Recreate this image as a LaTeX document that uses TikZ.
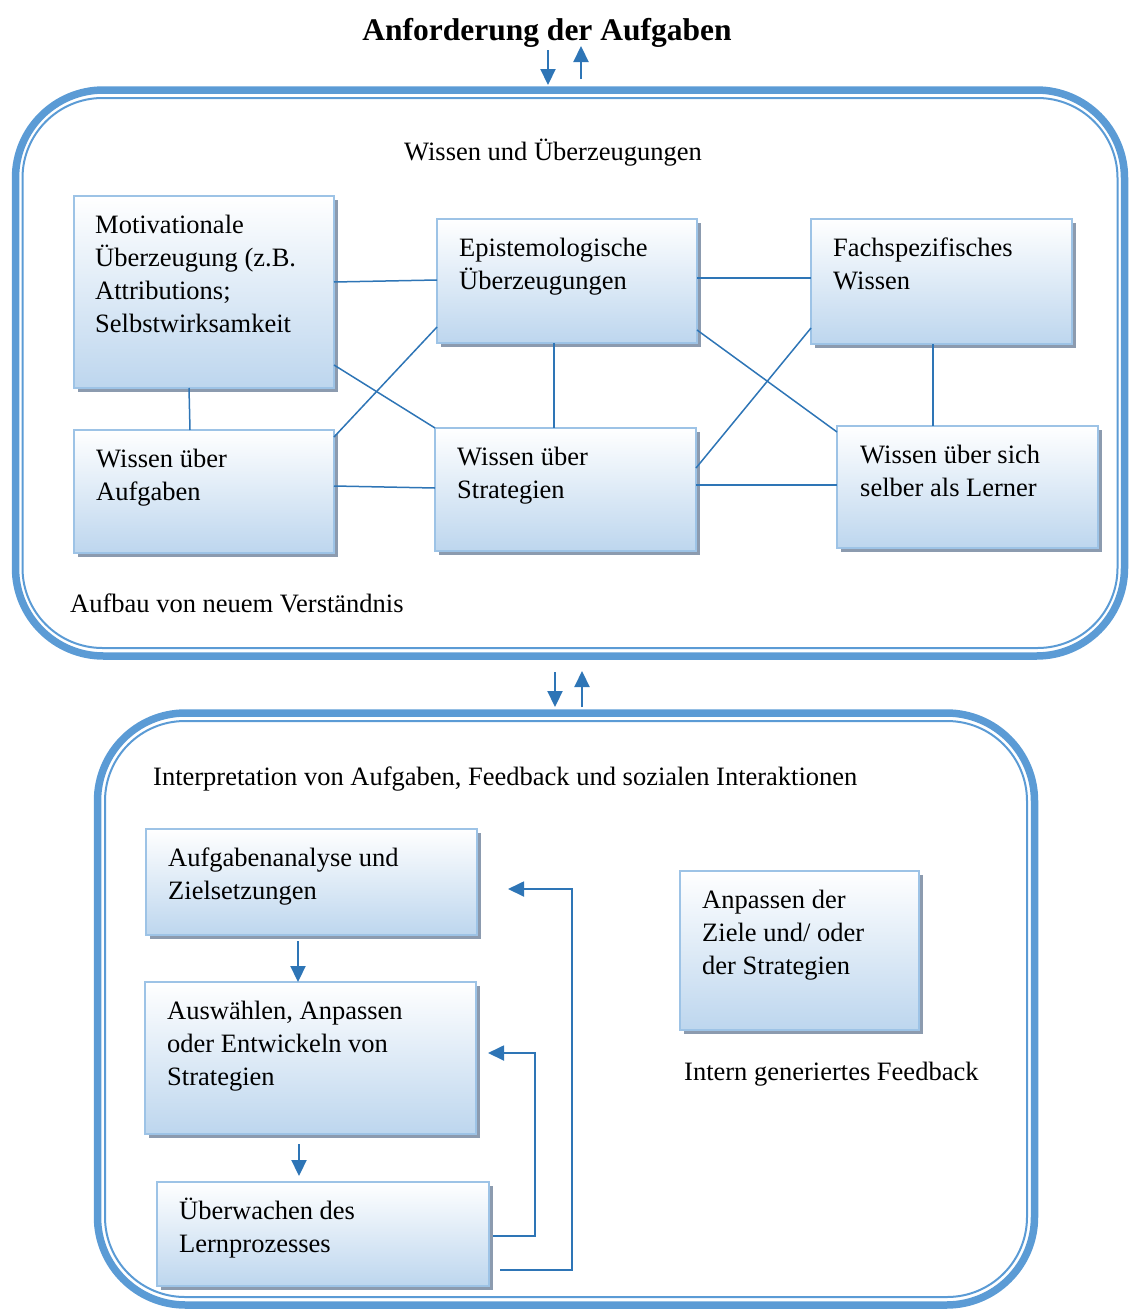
\documentclass[tikz,border=0pt]{standalone}
\usepackage{fontspec}
\setmainfont{Liberation Serif}
\usetikzlibrary{arrows.meta,shadows,calc}
\definecolor{frameblue}{RGB}{91,155,213}
\definecolor{linkblue}{RGB}{46,117,182}
\definecolor{boxborder}{RGB}{157,195,230}
\definecolor{boxbottom}{RGB}{189,214,238}
\definecolor{shadowgray}{RGB}{140,155,175}
\begin{document}
\begin{tikzpicture}[x=1pt,y=-1pt,
  frameouter/.style={draw=frameblue,line width=7.5pt,rounded corners=88pt},
  frameinner/.style={draw=frameblue,line width=2pt,rounded corners=80pt},
  boxnode/.style={draw=boxborder,line width=2.5pt,top color=white,bottom color=boxbottom,
    anchor=north west,inner sep=0pt,outer sep=0pt,
    drop shadow={shadow xshift=3.5pt,shadow yshift=-3.5pt,fill=shadowgray,opacity=1}},
  boxtext/.style={anchor=base west,inner sep=0pt,align=flush left,text width=#1,
    font=\fontsize{26.5}{33}\selectfont},
  plain/.style={inner sep=0pt,font=\fontsize{26.5}{33}\selectfont},
  link/.style={draw=linkblue,line width=1.5pt},
  flow/.style={draw=linkblue,line width=2.2pt,-{Triangle[width=15pt,length=16pt]}},
]
\useasboundingbox (0,0) rectangle (1128,1309);

% title
\node[inner sep=0pt,anchor=base,font=\fontsize{31.5}{38}\bfseries] (title) at (547,40) {Anforderung der Aufgaben};

% frames
\draw[frameouter] (15.5,90) rectangle (1124.5,656);
\draw[frameinner] (22.5,98) rectangle (1117.5,648);
\draw[frameouter] (97.5,713) rectangle (1034.5,1305);
\draw[frameinner] (105,721) rectangle (1027,1297);

% arrows between levels
\coordinate (a1s) at (548,50); \coordinate (a1e) at (548,85);
\coordinate (a2s) at (581,79); \coordinate (a2e) at (581,46);
\draw[flow] (a1s) -- (a1e);
\draw[flow] (a2s) -- (a2e);
\coordinate (b1s) at (555,672); \coordinate (b1e) at (555,707);
\coordinate (b2s) at (582,707); \coordinate (b2e) at (582,671);
\draw[flow] (b1s) -- (b1e);
\draw[flow] (b2s) -- (b2e);

% frame 1 texts
\node[plain,anchor=base] (wu) at (553,160) {Wissen und Überzeugungen};
\node[plain,anchor=base west] (aufbau) at (70,612) {Aufbau von neuem Verständnis};

% frame 1 boxes
\node[boxnode,minimum width=260pt,minimum height=192pt] (motiv) at (74,196) {};
\node[boxnode,minimum width=260pt,minimum height=124pt] (epist) at (437,219) {};
\node[boxnode,minimum width=261pt,minimum height=125pt] (fach) at (811,219) {};
\node[boxnode,minimum width=260pt,minimum height=123pt] (wa) at (74,430) {};
\node[boxnode,minimum width=261pt,minimum height=123pt] (ws) at (435,428) {};
\node[boxnode,minimum width=261pt,minimum height=122pt] (wsich) at (837,426) {};

\node[boxtext=240pt] (tmotiv) at ($(motiv.north west)+(21,37)$) {Motivationale\\Überzeugung (z.B.\\Attributions;\\Selbstwirksamkeit};
\node[boxtext=240pt] (tepist) at ($(epist.north west)+(22,37)$) {Epistemologische\\Überzeugungen};
\node[boxtext=240pt] (tfach) at ($(fach.north west)+(22,37)$) {Fachspezifisches\\Wissen};
\node[boxtext=240pt] (twa) at ($(wa.north west)+(22,37)$) {Wissen über\\Aufgaben};
\node[boxtext=240pt] (tws) at ($(ws.north west)+(22,37)$) {Wissen über\\Strategien};
\node[boxtext=240pt] (twsich) at ($(wsich.north west)+(23,37)$) {Wissen über sich\\selber als Lerner};

% frame 1 links
\draw[link] (motiv.east |- 0,282) -- (epist.west |- 0,280);
\draw[link] (epist.east |- 0,278) -- (fach.west |- 0,278);
\draw[link] (motiv.south -| 189,0) -- (wa.north -| 190,0);
\draw[link] (motiv.east |- 0,365) -- (ws.north west);
\draw[link] (wa.east |- 0,437) -- (epist.west |- 0,327);
\draw[link] (wa.east |- 0,486) -- (ws.west |- 0,488);
\draw[link] (epist.south -| 554,0) -- (ws.north -| 554,0);
\draw[link] (epist.east |- 0,330) -- (wsich.west |- 0,432);
\draw[link] (ws.east |- 0,468) -- (fach.west |- 0,328);
\draw[link] (ws.east |- 0,485) -- (wsich.west |- 0,485);
\draw[link] (fach.south -| 933,0) -- (wsich.north -| 933,0);

% frame 2
\node[plain,anchor=base west] (interp) at (153,785) {Interpretation von Aufgaben, Feedback und sozialen Interaktionen};
\node[boxnode,minimum width=331pt,minimum height=106pt] (aufg) at (146,829) {};
\node[boxnode,minimum width=331pt,minimum height=152pt] (ausw) at (145,982) {};
\node[boxnode,minimum width=332pt,minimum height=104pt] (ueb) at (157,1182) {};
\node[boxnode,minimum width=239pt,minimum height=159pt] (anp) at (680,871) {};

\node[boxtext=310pt] (taufg) at ($(aufg.north west)+(22,37)$) {Aufgabenanalyse und\\Zielsetzungen};
\node[boxtext=310pt] (tausw) at ($(ausw.north west)+(22,37)$) {Auswählen, Anpassen\\oder Entwickeln von\\Strategien};
\node[boxtext=310pt] (tueb) at ($(ueb.north west)+(22,37)$) {Überwachen des\\Lernprozesses};
\node[boxtext=220pt] (tanp) at ($(anp.north west)+(22,37)$) {Anpassen der\\Ziele und/ oder\\der Strategien};
\node[plain,anchor=base west] (intern) at (684,1080) {Intern generiertes Feedback};

% frame 2 arrows
\draw[flow] (aufg.south -| 298,0) ++(0,6) -- (ausw.north -| 298,0);
\draw[flow] (ausw.south -| 299,0) ++(0,10) -- ++(0,32);
\coordinate (fb1s) at (500,1270);
\coordinate (fb1e) at (508,889);
\coordinate (fb2s) at (493,1236);
\coordinate (fb2e) at (488,1053);
\draw[flow,line width=1.8pt] (fb1s) -- (572,1270) |- (fb1e);
\draw[flow,line width=1.8pt] (fb2s) -- (535,1236) |- (fb2e);
\end{tikzpicture}
\end{document}
